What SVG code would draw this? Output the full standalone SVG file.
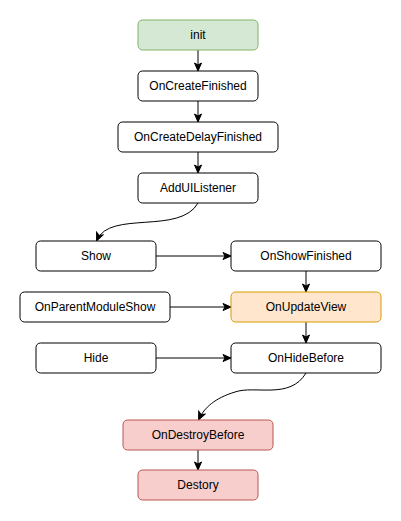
<svg xmlns="http://www.w3.org/2000/svg" width="401" height="521" viewBox="0 0 401 521">
<defs>
<marker id="ah" markerWidth="10" markerHeight="10" refX="8" refY="5" orient="auto" markerUnits="userSpaceOnUse">
<path d="M1,1.5 L9,5 L1,8.5 L3,5 Z" fill="#000" stroke="#000" stroke-width="1"/>
</marker>
</defs>
<style>
.n rect{fill:#fff;stroke:#000;stroke-width:1}
.g rect{fill:#d5e8d4;stroke:#82b366}
.o rect{fill:#ffe6cc;stroke:#d79b00}
.r rect{fill:#f8cecc;stroke:#b85450}
text{font-family:"Liberation Sans",Arial,sans-serif;font-size:12px;fill:#000;text-anchor:middle;dominant-baseline:central}
#edges path{fill:none;stroke:#000;stroke-width:1;marker-end:url(#ah)}
</style>
<rect width="401" height="521" fill="#fff"/>
<g id="edges">
<path d="M198,50 V70"/>
<path d="M198,101 V121"/>
<path d="M198,152 V172"/>
<path d="M198,203 C180,235 110,210 97,240"/>
<path d="M156,256 H230"/>
<path d="M306,271 V291"/>
<path d="M170,307 H230"/>
<path d="M306,322 V342"/>
<path d="M156,358 H230"/>
<path d="M306,373 C290,400 255,385 235,392 C215,398 204,408 199,419"/>
<path d="M198,450 V469"/>
</g>
<g id="init" class="n g"><rect x="138" y="20" width="120" height="30" rx="4.5"/><text x="198" y="35">init</text></g>
<g id="onCreateFinished" class="n"><rect x="138" y="71" width="120" height="30" rx="4.5"/><text x="198" y="86">OnCreateFinished</text></g>
<g id="onCreateDelayFinished" class="n"><rect x="118" y="122" width="160" height="30" rx="4.5"/><text x="198" y="137">OnCreateDelayFinished</text></g>
<g id="addUIListener" class="n"><rect x="138" y="173" width="120" height="30" rx="4.5"/><text x="198" y="188">AddUIListener</text></g>
<g id="show" class="n"><rect x="36" y="241" width="120" height="30" rx="4.5"/><text x="96" y="256">Show</text></g>
<g id="onShowFinished" class="n"><rect x="231" y="241" width="150" height="30" rx="4.5"/><text x="306" y="256">OnShowFinished</text></g>
<g id="onParentModuleShow" class="n"><rect x="20" y="292" width="150" height="30" rx="4.5"/><text x="95" y="307">OnParentModuleShow</text></g>
<g id="onUpdateView" class="n o"><rect x="231" y="292" width="150" height="30" rx="4.5"/><text x="306" y="307">OnUpdateView</text></g>
<g id="hide" class="n"><rect x="36" y="343" width="120" height="30" rx="4.5"/><text x="96" y="358">Hide</text></g>
<g id="onHideBefore" class="n"><rect x="231" y="343" width="150" height="30" rx="4.5"/><text x="306" y="358">OnHideBefore</text></g>
<g id="onDestroyBefore" class="n r"><rect x="123" y="420" width="150" height="30" rx="4.5"/><text x="198" y="435">OnDestroyBefore</text></g>
<g id="destory" class="n r"><rect x="138" y="470" width="120" height="30" rx="4.5"/><text x="198" y="485">Destory</text></g>
</svg>
